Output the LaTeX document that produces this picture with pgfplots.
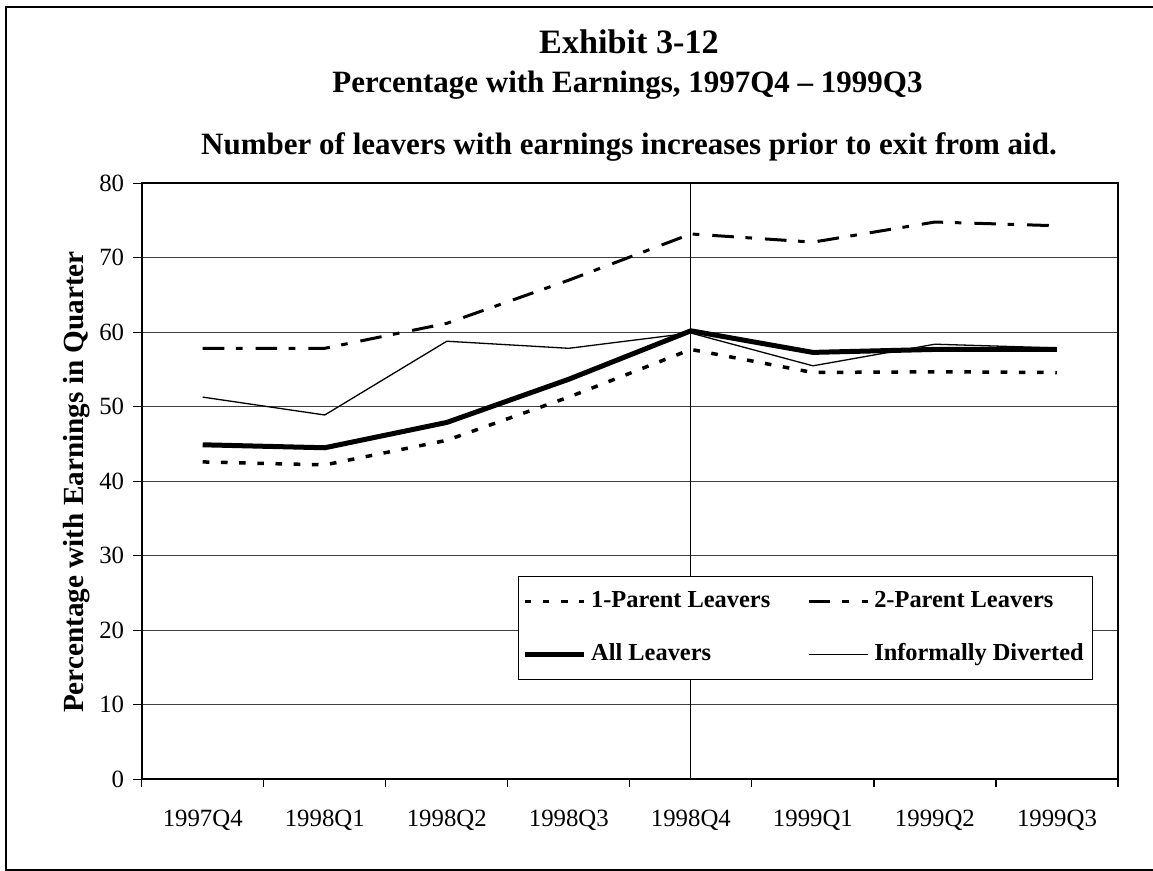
\documentclass[border=0pt]{standalone}
\usepackage{pgfplots}
\pgfplotsset{compat=1.18}
\usepackage{fontspec}
\setmainfont{Liberation Serif}
\begin{document}
\begin{tikzpicture}
\useasboundingbox (0,0) rectangle (576.5pt,435.5pt);
\draw[line width=1pt] (580pt,432pt) -- (3pt,432pt) -- (3pt,0.5pt) -- (580pt,0.5pt);
\node[anchor=base, inner sep=0pt, font=\fontsize{17.1}{20}\selectfont\bfseries] at (314.5pt,408.5pt) {Exhibit 3-12};
\node[anchor=base, inner sep=0pt, font=\fontsize{15.5}{18}\selectfont\bfseries] at (313.75pt,389pt) {Percentage with Earnings, 1997Q4 -- 1999Q3};
\node[anchor=base, inner sep=0pt, font=\fontsize{15.5}{18}\selectfont\bfseries] at (314.5pt,358pt) {Number of leavers with earnings increases prior to exit from aid.};
\node[anchor=base, rotate=90, inner sep=0pt, font=\fontsize{14.6}{17}\selectfont\bfseries] at (41.5pt,194.5pt) {Percentage with Earnings in Quarter};
\begin{axis}[
  at={(70.85pt,45.85pt)}, anchor=south west,
  width=488.15pt, height=298pt, scale only axis,
  xmin=-0.5, xmax=7.5, ymin=0, ymax=80,
  xtick={0,...,7},
  xticklabels={1997Q4,1998Q1,1998Q2,1998Q3,1998Q4,1999Q1,1999Q2,1999Q3},
  minor xtick={-0.5,0.5,...,7.5},
  ytick={0,10,...,80},
  tick pos=left,
  tick align=outside, major tick length=4.25pt, minor tick length=4pt,
  major x tick style={draw=none},
  tick style={black, line width=0.6pt},
  ymajorgrids, grid style={black!75, line width=0.5pt},
  axis line style={line width=0.8pt},
  tick label style={font=\fontsize{12.4}{14}\selectfont},
  /pgf/number format/assume math mode=true,
  xticklabel style={anchor=base, inner sep=0pt, yshift=-19.6pt},
  yticklabel style={anchor=east, inner sep=0pt, xshift=-4.35pt},
  legend columns=2,
  legend cell align=left,
  legend image code/.code={\draw[#1] (0pt,0pt) -- (29.5pt,0pt);},
  legend style={at={(0.3851,0.3411)}, anchor=north west, draw=black, line width=0.5pt, fill=white,
    font=\fontsize{12.2}{14}\selectfont\bfseries, inner xsep=2pt, inner ysep=5.5pt,
    row sep=12.5pt,
    nodes={inner xsep=2.5pt, inner ysep=1.5pt, text height=8.5pt, text depth=2.5pt},
    /tikz/every even column/.append style={column sep=16pt}},
]
\addplot[black, line width=0.5pt, forget plot] coordinates {(4,0) (4,80)};
\addplot[black, line width=1.75pt, dash pattern=on 3.3pt off 5.8pt] coordinates {
(0,42.6) (1,42.2) (2,45.5) (3,51.3) (4,57.7) (5,54.6) (6,54.7) (7,54.6)};
\addlegendentry{1-Parent Leavers}
\addplot[black, line width=1.5pt, dash pattern=on 10.8pt off 5.8pt on 3.3pt off 6.5pt] coordinates {
(0,57.85) (1,57.85) (2,61.2) (3,67.0) (4,73.2) (5,72.1) (6,74.8) (7,74.3)};
\addlegendentry{2-Parent Leavers}
\addplot[black, line width=2.5pt] coordinates {
(0,44.9) (1,44.5) (2,47.9) (3,53.7) (4,60.2) (5,57.3) (6,57.7) (7,57.7)};
\addlegendentry{All Leavers}
\addplot[black, line width=0.65pt] coordinates {
(0,51.3) (1,48.9) (2,58.8) (3,57.85) (4,59.9) (5,55.5) (6,58.4) (7,57.9)};
\addlegendentry{Informally Diverted}
\end{axis}
\end{tikzpicture}
\end{document}
